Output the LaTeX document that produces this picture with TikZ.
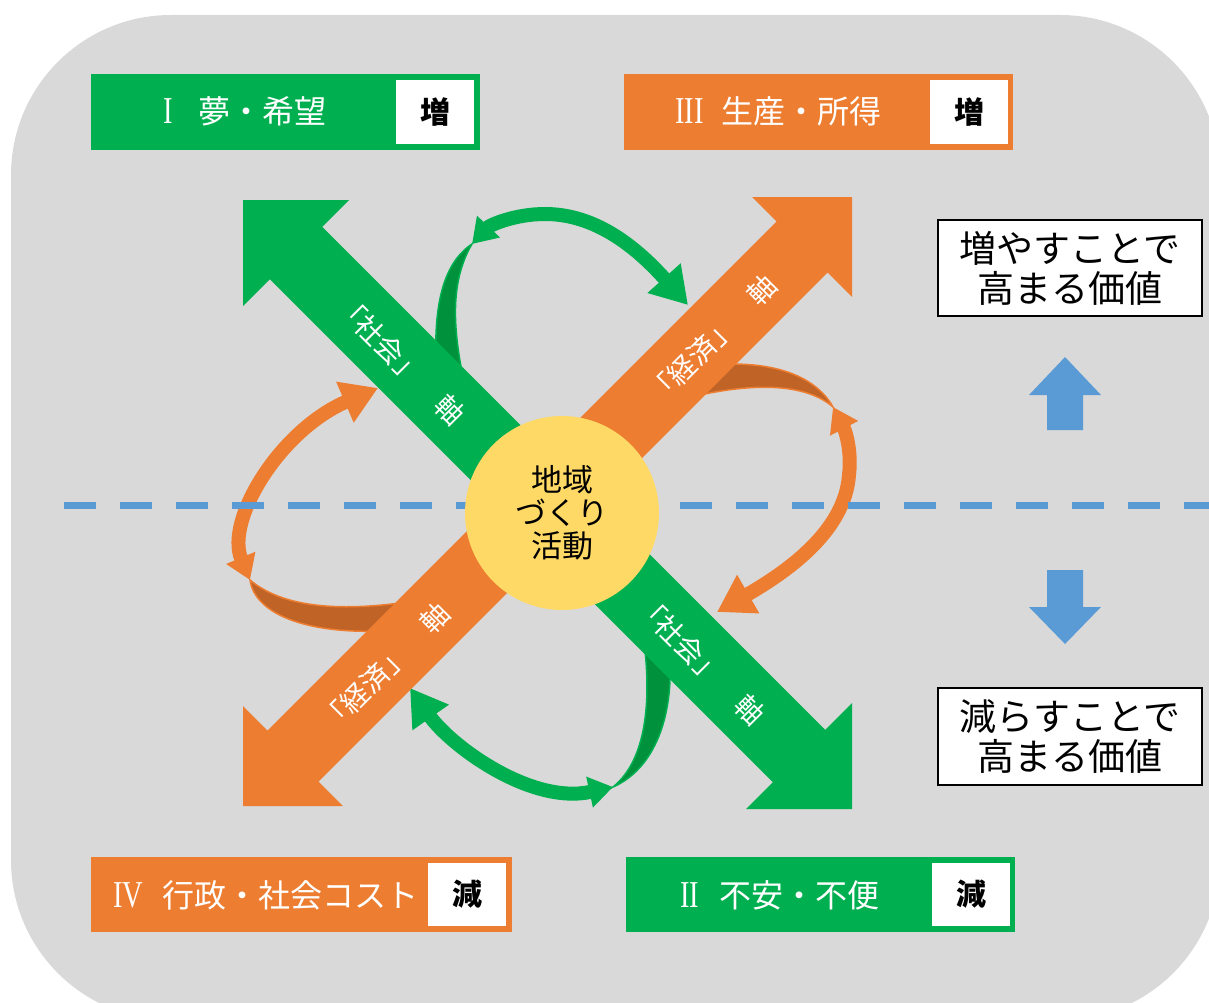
\documentclass[tikz,border=0pt]{standalone}
\usepackage{fontspec}
\setmainfont{Noto Sans CJK JP}
\newfontfamily\numfont{Liberation Serif}
\usetikzlibrary{arrows.meta}
\definecolor{bg}{HTML}{D9D9D9}
\definecolor{grn}{HTML}{00B050}
\definecolor{org}{HTML}{ED7D31}
\definecolor{dgrn}{HTML}{00913C}
\definecolor{dorg}{HTML}{C06326}
\definecolor{ylw}{HTML}{FFD966}
\definecolor{blu}{HTML}{5B9BD5}
\newcommand\myfs[2]{\fontsize{#1}{#2}\selectfont}
\newcommand\romnum[1]{\scalebox{0.75}[1]{\numfont\myfs{38}{40}#1}}
\begin{document}
\begin{tikzpicture}[x=1pt,y=-1pt,
  catbox/.style={inner sep=0pt, minimum height=76pt},
  whitebox/.style={fill=white, inner sep=0pt, minimum width=78pt, minimum height=64pt, font=\bfseries\myfs{30}{34}},
  cattext/.style={text=white, inner sep=0pt, anchor=base west, font=\myfs{32}{36}},
  axislabel/.style={text=white, inner sep=0pt, font=\myfs{28}{32}},
  valuebox/.style={draw=black, line width=1.2pt, fill=white, minimum width=264pt, minimum height=96pt, align=center, inner sep=0pt, font=\myfs{37}{40}},
  band/.style={line width=14pt},
  headtips/.style={{Triangle[length=24pt,width=30pt]}-{Triangle[length=36pt,width=42pt]}},
  twistg/.style={fill=dgrn, draw=grn, line width=1.5pt},
  twisto/.style={fill=dorg, draw=org, line width=1.5pt}
]
\useasboundingbox (0,0) rectangle (1209,1003);
\clip (0,0) rectangle (1209,1003);
% background
\fill[bg, rounded corners=160pt] (11,15) rectangle (1220,1020);

% ---------- loops (behind axes) ----------
\coordinate (l1b) at (472,244);
\coordinate (l1a) at (688,305);
\coordinate (l2b) at (833,407);
\coordinate (l2a) at (717,612);
\coordinate (l3b) at (250,580);
\coordinate (l3a) at (378,388);
\coordinate (l4b) at (613,787);
\coordinate (l4a) at (410,688);

% twisted return parts
\filldraw[twistg] (l1b) .. controls (445,262) and (434,300) .. (436,360) -- (462,372) .. controls (452,320) and (452,278) .. (l1b) -- cycle;
\filldraw[twisto] (l2b) .. controls (815,375) and (770,358) .. (700,366) -- (700,395) .. controls (760,382) and (808,385) .. (l2b) -- cycle;
\filldraw[twisto] (l3b) .. controls (255,615) and (310,637) .. (400,630) -- (400,603) .. controls (330,612) and (280,605) .. (l3b) -- cycle;
\filldraw[twistg] (l4b) .. controls (640,765) and (652,720) .. (645,650) -- (670,664) .. controls (672,722) and (652,770) .. (l4b) -- cycle;

% main bands
\draw[grn, band, headtips] (l1b) .. controls (490,225) and (515,214) .. (545,214) .. controls (590,214) and (630,240) .. (l1a);
\draw[org, band, headtips] (l2b) .. controls (845,430) and (852,450) .. (849,475) .. controls (845,530) and (790,570) .. (l2a);
\draw[org, band, headtips] (l3b) .. controls (225,520) and (280,430) .. (l3a);
\draw[grn, band, headtips] (l4b) .. controls (530,805) and (450,745) .. (l4a);

% ---------- axes ----------
\fill[grn] (243,200) -- (349,200) -- (322.2,226.8) -- (825.2,729.8) -- (852,703) -- (852,809)
  -- (746,809) -- (772.8,782.2) -- (269.8,279.2) -- (243,306) -- cycle;
\fill[org] (243,806) -- (343,806) -- (318.5,781.5) -- (827.5,272.5) -- (852,297) -- (852,197)
  -- (752,197) -- (776.5,221.5) -- (267.5,730.5) -- (243,706) -- cycle;

% dashed divider
\coordinate (dashL) at (64,505);
\coordinate (dashR) at (1209,505);
\draw[blu, line width=7pt, dash pattern=on 32pt off 24pt] (dashL) -- (dashR);

% hub
\node[circle, fill=ylw, minimum size=194pt, inner sep=0pt, align=center, font=\myfs{31}{33}] (hub) at (562,513) {地域\\づくり\\活動};

% axis labels
\node[axislabel, rotate=-45] (gl1) at (400,360) {「社会」　軸};
\node[axislabel, rotate=-45] (gl2) at (700,660) {「社会」　軸};
\node[axislabel, rotate=45] (ol1) at (712,340) {「経済」　軸};
\node[axislabel, rotate=45] (ol2) at (385,668) {「経済」　軸};

% category boxes
\node[catbox, fill=grn, minimum width=389pt] (b1) at (285.5,112) {};
\node[whitebox] (w1) at (435,112) {増};
\node[cattext] (t1) at (163,124) {\romnum{I}\hspace{26pt}夢・希望};

\node[catbox, fill=org, minimum width=389pt] (b3) at (818.5,112) {};
\node[whitebox] (w3) at (969,112) {増};
\node[cattext] (t3) at (675,124) {\romnum{III}\hspace{18pt}生産・所得};

\node[catbox, fill=org, minimum width=421pt, minimum height=75pt] (b4) at (301.5,894.5) {};
\node[whitebox, minimum height=63pt] (w4) at (467,894.5) {減};
\node[cattext] (t4) at (113,907) {\romnum{IV}\hspace{19pt}行政・社会コスト};

\node[catbox, fill=grn, minimum width=389pt, minimum height=75pt] (b2) at (820.5,894.5) {};
\node[whitebox, minimum height=63pt] (w2) at (971,894.5) {減};
\node[cattext] (t2) at (680,907) {\romnum{II}\hspace{20pt}不安・不便};

% value boxes
\node[valuebox] (vup) at (1070,268) {増やすことで\\高まる価値};
\node[valuebox, minimum height=97pt] (vdn) at (1070,736.5) {減らすことで\\高まる価値};

% blue block arrows
\fill[blu] (1065,357) -- (1101,395) -- (1083,395) -- (1083,430) -- (1047,430) -- (1047,395) -- (1029,395) -- cycle;
\fill[blu] (1065,644) -- (1101,607) -- (1083,607) -- (1083,570) -- (1047,570) -- (1047,607) -- (1029,607) -- cycle;
\end{tikzpicture}
\end{document}
